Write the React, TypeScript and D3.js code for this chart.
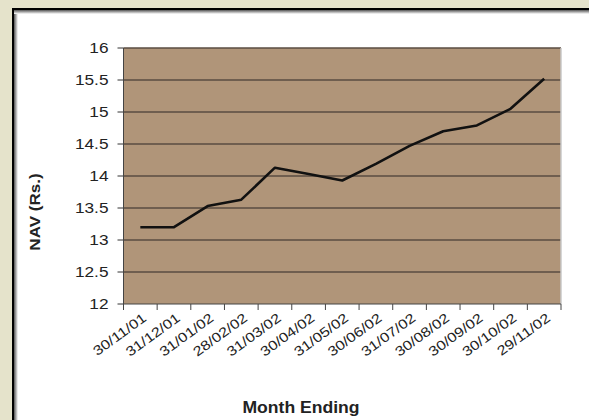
import { line, scaleBand, scaleLinear } from "d3";

const months = [
  "30/11/01",
  "31/12/01",
  "31/01/02",
  "28/02/02",
  "31/03/02",
  "30/04/02",
  "31/05/02",
  "30/06/02",
  "31/07/02",
  "30/08/02",
  "30/09/02",
  "30/10/02",
  "29/11/02",
];

const nav = [13.2, 13.2, 13.53, 13.63, 14.13, 14.03, 13.93, 14.19, 14.47, 14.7, 14.79, 15.05, 15.52];

const yTicks = [12, 12.5, 13, 13.5, 14, 14.5, 15, 15.5, 16];

const width = 589;
const height = 420;
const marginTop = 48;
const marginRight = 28;
const marginBottom = 116;
const marginLeft = 123.5;

const font = "'Liberation Sans', Arial, sans-serif";

export default function App() {
  const x = scaleBand<string>(months, [marginLeft, width - marginRight]).padding(0);
  const y = scaleLinear([12, 16], [height - marginBottom, marginTop]);
  const cx = (m: string) => (x(m) ?? 0) + x.bandwidth() / 2;

  const path = line<number>((_, i) => cx(months[i]), (d) => y(d))(nav);

  const x0 = marginLeft;
  const x1 = width - marginRight;
  const y0 = height - marginBottom;

  // band edges for the category ticks
  const edges = [...months.map((m) => x(m) ?? 0), x1];

  return (
    <svg
      width={width}
      height={height}
      style={{ position: "absolute", left: 0, top: 0 }}
      fontFamily={font}
    >
      <defs>
        <linearGradient id="shadeL" x1="0" x2="1" y1="0" y2="0">
          <stop offset="0" stopColor="#555" />
          <stop offset="1" stopColor="#fff" />
        </linearGradient>
        <linearGradient id="shadeT" x1="0" x2="0" y1="0" y2="1">
          <stop offset="0" stopColor="#555" />
          <stop offset="1" stopColor="#fff" />
        </linearGradient>
      </defs>
      <rect width={width} height={height} fill="#e5e3cb" />
      <rect x={12} y={8} width={width - 12} height={height - 8} fill="#000" />
      <rect x={14} y={10} width={width - 14} height={height - 10} fill="#fff" />
      <rect x={14} y={10} width={4} height={height - 10} fill="url(#shadeL)" />
      <rect x={14} y={10} width={width - 14} height={4} fill="url(#shadeT)" />

      <rect x={x0} y={marginTop} width={x1 - x0} height={y0 - marginTop} fill="#b09579" />

      {yTicks.map((t) => (
        <g key={t}>
          {t !== 12 && (
            <line x1={x0} x2={x1} y1={y(t)} y2={y(t)} stroke="#5a4d42" strokeWidth={1.3} />
          )}
          <line x1={x0 - 6} x2={x0} y1={y(t)} y2={y(t)} stroke="#333" strokeWidth={1} />
          <text
            transform={`translate(${x0 - 15},${y(t)}) scale(1.15,1)`}
            dy="0.36em"
            textAnchor="end"
            fontSize={15}
            fill="#222"
          >
            {t}
          </text>
        </g>
      ))}

      <line x1={x1} x2={x1} y1={marginTop} y2={y0} stroke="#c8c8c8" strokeWidth={1.5} />
      <line x1={x0} x2={x0} y1={marginTop} y2={y0} stroke="#444" strokeWidth={1} />
      <line x1={x0} x2={x1} y1={y0} y2={y0} stroke="#444" strokeWidth={1} />

      {edges.map((e, i) => (
        <line key={i} x1={e} x2={e} y1={y0} y2={y0 + 6} stroke="#444" strokeWidth={1} />
      ))}

      {months.map((m) => (
        <text
          key={m}
          transform={`translate(${cx(m) + 7},${y0 + 16}) rotate(-36) scale(1.2,1)`}
          textAnchor="end"
          fontSize={13.5}
          fill="#222"
        >
          {m}
        </text>
      ))}

      {path && <path d={path} fill="none" stroke="#111" strokeWidth={2.6} strokeLinejoin="round" />}

      <text
        transform={`translate(40,212) rotate(-90) scale(1.1,1)`}
        textAnchor="middle"
        fontSize={15.5}
        fontWeight="bold"
        fill="#222"
      >
        NAV (Rs.)
      </text>
      <text
        transform={`translate(301,413) scale(1.1,1)`}
        textAnchor="middle"
        fontSize={16}
        fontWeight="bold"
        fill="#222"
      >
        Month Ending
      </text>
    </svg>
  );
}
